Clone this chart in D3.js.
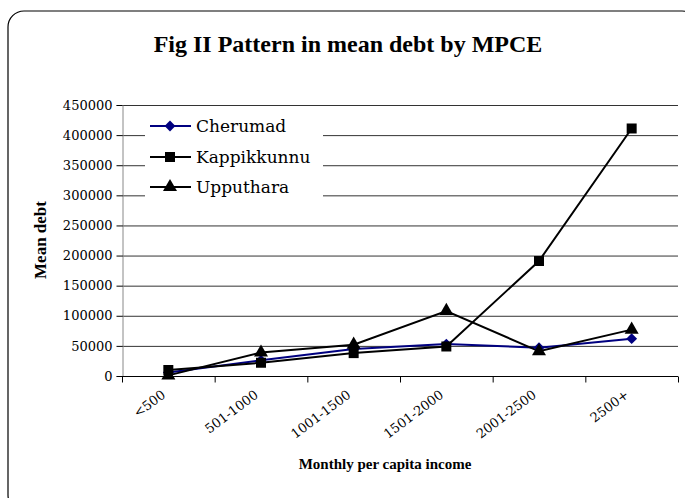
<!DOCTYPE html>
<html>
<head>
<meta charset="utf-8">
<script src="https://cdn.jsdelivr.net/npm/d3@7"></script>
<style>
  body { margin: 0; background: #fff; }
  svg { display: block; font-family: "Liberation Serif", "DejaVu Serif", serif; }
</style>
</head>
<body>
<svg id="chart" width="685" height="498"></svg>
<script>
// categories (monthly per capita income)
const categories = ["<500", "501-1000", "1001-1500", "1501-2000", "2001-2500", "2500+"];
// mean debt per village
const cherumad    = [6000, 26000, 45000, 53000, 47000, 62000];
const kappikkunnu = [10000, 22000, 38000, 49000, 191000, 411000];
const upputhara   = [1000, 39000, 52000, 108000, 41000, 77000];
const yTicks = [0, 50000, 100000, 150000, 200000, 250000, 300000, 350000, 400000, 450000];

const series = [
  { name: "Cherumad", values: cherumad, color: "#000080", symbol: d3.symbolDiamond2, size: 75 },
  { name: "Kappikkunnu", values: kappikkunnu, color: "#000", symbol: d3.symbolSquare, size: 100 },
  { name: "Upputhara", values: upputhara, color: "#000", symbol: d3.symbolTriangle, size: 85 }
];

const width = 685, height = 498;
const margin = { top: 105, right: 7, bottom: 122, left: 122 };
const tickFont = "DejaVu Serif, serif";

const svg = d3.select("#chart");

// outer frame
svg.append("rect")
  .attr("x", 8).attr("y", 11)
  .attr("width", 690).attr("height", 500)
  .attr("rx", 16).attr("ry", 16)
  .attr("fill", "#fff")
  .attr("stroke", "#000")
  .attr("stroke-width", 1.2);

// title
svg.append("text")
  .attr("x", 348).attr("y", 52)
  .attr("text-anchor", "middle")
  .attr("font-size", "24px")
  .attr("font-weight", "bold")
  .text("Fig II Pattern in mean debt by MPCE");

/// Scales ///
const x = d3.scaleBand()
  .domain(categories)
  .range([margin.left, width - margin.right]);

const y = d3.scaleLinear()
  .domain([0, 450000])
  .range([height - margin.bottom, margin.top]);

// gridlines
svg.append("g")
  .selectAll("line")
  .data(yTicks.slice(1))
  .join("line")
  .attr("x1", margin.left).attr("x2", width - margin.right)
  .attr("y1", d => y(d) + 0.5).attr("y2", d => y(d) + 0.5)
  .attr("stroke", "#333")
  .attr("stroke-width", 1);

/// Axes ///
// Y axis
svg.append("g")
  .attr("transform", `translate(${margin.left + 0.5},0)`)
  .call(d3.axisLeft(y).tickValues(yTicks).tickSize(6).tickPadding(4).tickFormat(d3.format("d")))
  .call(g => g.select(".domain").attr("stroke", "#888"))
  .call(g => g.selectAll(".tick line").attr("stroke", "#000"))
  .call(g => g.selectAll("text")
    .attr("font-size", "13px")
    .attr("font-family", tickFont)
    .attr("fill", "#000"));

// X axis: ticks at band edges
const xAxisG = svg.append("g")
  .attr("transform", `translate(0,${y(0) + 0.5})`);

xAxisG.append("line")
  .attr("x1", margin.left).attr("x2", width - margin.right)
  .attr("stroke", "#000");

xAxisG.selectAll(".edge")
  .data(categories.concat(["__end"]))
  .join("line")
  .attr("class", "edge")
  .attr("x1", (d, i) => margin.left + i * x.bandwidth() + 0.5)
  .attr("x2", (d, i) => margin.left + i * x.bandwidth() + 0.5)
  .attr("y1", 0).attr("y2", 6)
  .attr("stroke", "#000");

xAxisG.selectAll(".cat-label")
  .data(categories)
  .join("text")
  .attr("class", "cat-label")
  .attr("transform", d => `translate(${x(d) + x.bandwidth() / 2 - 2},${20}) rotate(-37)`)
  .attr("text-anchor", "end")
  .attr("font-size", "13px")
  .attr("font-family", tickFont)
  .text(d => d);

// axis titles
svg.append("text")
  .attr("transform", `translate(46,240) rotate(-90)`)
  .attr("text-anchor", "middle")
  .attr("font-size", "17px")
  .attr("font-weight", "bold")
  .text("Mean debt");

svg.append("text")
  .attr("x", 385).attr("y", 469)
  .attr("text-anchor", "middle")
  .attr("font-size", "15px")
  .attr("font-weight", "bold")
  .text("Monthly per capita income");

/// Lines and markers ///
const line = d3.line()
  .x((d, i) => x(categories[i]) + x.bandwidth() / 2)
  .y(d => y(d));

const plotG = svg.append("g");

series.forEach(s => {
  plotG.append("path")
    .datum(s.values)
    .attr("d", line)
    .attr("fill", "none")
    .attr("stroke", s.color)
    .attr("stroke-width", 2);
});

series.forEach(s => {
  plotG.selectAll(null)
    .data(s.values)
    .join("path")
    .attr("transform", (d, i) => `translate(${x(categories[i]) + x.bandwidth() / 2},${y(d)})`)
    .attr("d", d3.symbol().type(s.symbol).size(s.size))
    .attr("fill", s.color);
});

/// Legend ///
const legend = svg.append("g");
legend.append("rect")
  .attr("x", 145).attr("y", 110)
  .attr("width", 178).attr("height", 92)
  .attr("fill", "#fff");

const legendRows = [126, 157, 187];
series.forEach((s, i) => {
  const row = legend.append("g").attr("transform", `translate(0,${legendRows[i]})`);
  row.append("line")
    .attr("x1", 150).attr("x2", 191)
    .attr("stroke", s.color)
    .attr("stroke-width", 2);
  row.append("path")
    .attr("transform", "translate(170,0)")
    .attr("d", d3.symbol().type(s.symbol).size(s.size))
    .attr("fill", s.color);
  row.append("text")
    .attr("x", 196).attr("y", 6)
    .attr("font-size", "17px")
    .attr("font-family", tickFont)
    .text(s.name);
});
</script>
</body>
</html>
